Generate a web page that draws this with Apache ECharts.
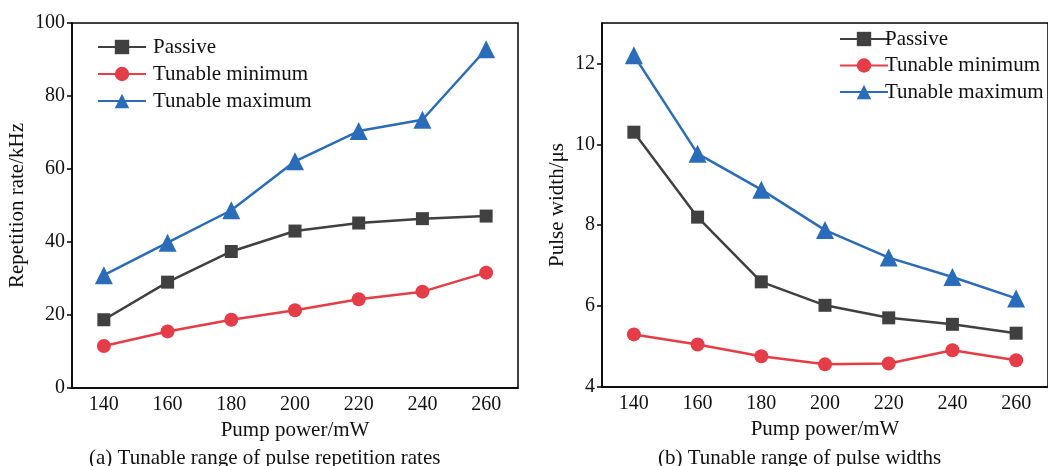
<!DOCTYPE html>
<html>
<head>
<meta charset="utf-8">
<script src="https://cdn.jsdelivr.net/npm/echarts@6/dist/echarts.min.js"></script>
<style>
  html, body { margin: 0; padding: 0; background: #fff; }
  #chart { width: 1048px; height: 466px; }
</style>
</head>
<body>
<div id="chart"></div>
<script>
// pump power (x categories)
const pumpPower = ['140', '160', '180', '200', '220', '240', '260']

// (a) repetition rate, kHz
const repPassive = [18.7, 29.0, 37.4, 43.0, 45.2, 46.4, 47.1]
const repMin = [11.5, 15.5, 18.7, 21.3, 24.3, 26.4, 31.6]
const repMax = [30.9, 39.8, 48.7, 62.1, 70.4, 73.5, 92.8]

// (b) pulse width, us
const widthPassive = [10.30, 8.20, 6.60, 6.02, 5.71, 5.55, 5.33]
const widthMin = [5.30, 5.05, 4.76, 4.56, 4.58, 4.91, 4.66]
const widthMax = [12.2, 9.77, 8.88, 7.88, 7.2, 6.72, 6.19]

const repTicks = [0, 20, 40, 60, 80, 100]
const widthTicks = [4, 6, 8, 10, 12]

const FONT = 'Liberation Serif'
const TXT = '#111'
const colors = { passive: '#404040', min: '#e53d47', max: '#2a6cb9' }

function xAxisOf (gridIndex) {
  return {
    type: 'category',
    gridIndex: gridIndex,
    data: pumpPower,
    boundaryGap: true,
    name: 'Pump power/mW',
    nameLocation: 'middle',
    nameGap: 26,
    nameTextStyle: { fontFamily: FONT, fontSize: 21, color: TXT },
    axisLine: { lineStyle: { color: '#000', width: 1.5 } },
    axisTick: { alignWithLabel: true, inside: true, length: 6, lineStyle: { color: '#000', width: 1.5 } },
    axisLabel: { fontFamily: FONT, fontSize: 20, color: TXT, margin: 7 },
    splitLine: { show: false }
  }
}

function yAxisOf (gridIndex, name, min, max, interval, ticks, nameGap) {
  return {
    type: 'value',
    gridIndex: gridIndex,
    min: min,
    max: max,
    interval: interval,
    name: name,
    nameLocation: 'middle',
    nameGap: nameGap,
    nameTextStyle: { fontFamily: FONT, fontSize: 21, color: TXT },
    axisLine: { show: true, lineStyle: { color: '#000', width: 1.5 } },
    axisTick: { show: true, length: 5, customValues: ticks, lineStyle: { color: '#000', width: 1.5 } },
    axisLabel: { fontFamily: FONT, fontSize: 20, color: TXT, margin: 7, customValues: ticks },
    splitLine: { show: false }
  }
}

function seriesOf (name, idx, data, color, symbol, size) {
  return {
    name: name,
    type: 'line',
    xAxisIndex: idx,
    yAxisIndex: idx,
    data: data,
    symbol: symbol,
    symbolSize: size,
    lineStyle: { color: color, width: 2.5 },
    itemStyle: { color: color },
    z: 3
  }
}

const legendText = { fontFamily: FONT, fontSize: 21, color: TXT, lineHeight: 22 }

const option = {
  animation: false,
  backgroundColor: '#fff',
  title: [
    {
      text: '(a) Tunable range of pulse repetition rates',
      left: 84, top: 443,
      textStyle: { fontFamily: FONT, fontSize: 21, fontWeight: 'normal', color: TXT }
    },
    {
      text: '(b) Tunable range of pulse widths',
      left: 653, top: 443,
      textStyle: { fontFamily: FONT, fontSize: 21, fontWeight: 'normal', color: TXT }
    }
  ],
  legend: [
    {
      orient: 'vertical',
      left: 92, top: 31,
      itemWidth: 48, itemHeight: 18, itemGap: 5,
      textStyle: Object.assign({ padding: [0, 0, 0, 2] }, legendText),
      data: ['Passive', 'Tunable minimum', 'Tunable maximum']
    },
    {
      orient: 'vertical',
      left: 834, top: 23,
      itemWidth: 48, itemHeight: 18, itemGap: 4.5,
      textStyle: Object.assign({ padding: [0, 0, 0, -8] }, legendText),
      data: ['Passive', 'Tunable minimum', 'Tunable maximum']
    }
  ],
  grid: [
    { left: 72, top: 23, width: 446, height: 365, show: true, borderColor: '#000', borderWidth: 1.5 },
    { left: 602, top: 23, width: 462, height: 364, show: true, borderColor: '#000', borderWidth: 1.5 }
  ],
  xAxis: [xAxisOf(0), xAxisOf(1)],
  yAxis: [
    yAxisOf(0, 'Repetition rate/kHz', 0, 100, 20, repTicks, 44),
    yAxisOf(1, 'Pulse width/μs', 4, 13, 2, widthTicks, 34)
  ],
  series: [
    seriesOf('Passive', 0, repPassive, colors.passive, 'rect', 13),
    seriesOf('Tunable minimum', 0, repMin, colors.min, 'circle', 14),
    seriesOf('Tunable maximum', 0, repMax, colors.max, 'triangle', 18),
    seriesOf('Passive', 1, widthPassive, colors.passive, 'rect', 13),
    seriesOf('Tunable minimum', 1, widthMin, colors.min, 'circle', 14),
    seriesOf('Tunable maximum', 1, widthMax, colors.max, 'triangle', 18)
  ]
}

const myChart = echarts.init(document.getElementById('chart'), null, { renderer: 'canvas' })
myChart.setOption(option)
</script>
</body>
</html>
